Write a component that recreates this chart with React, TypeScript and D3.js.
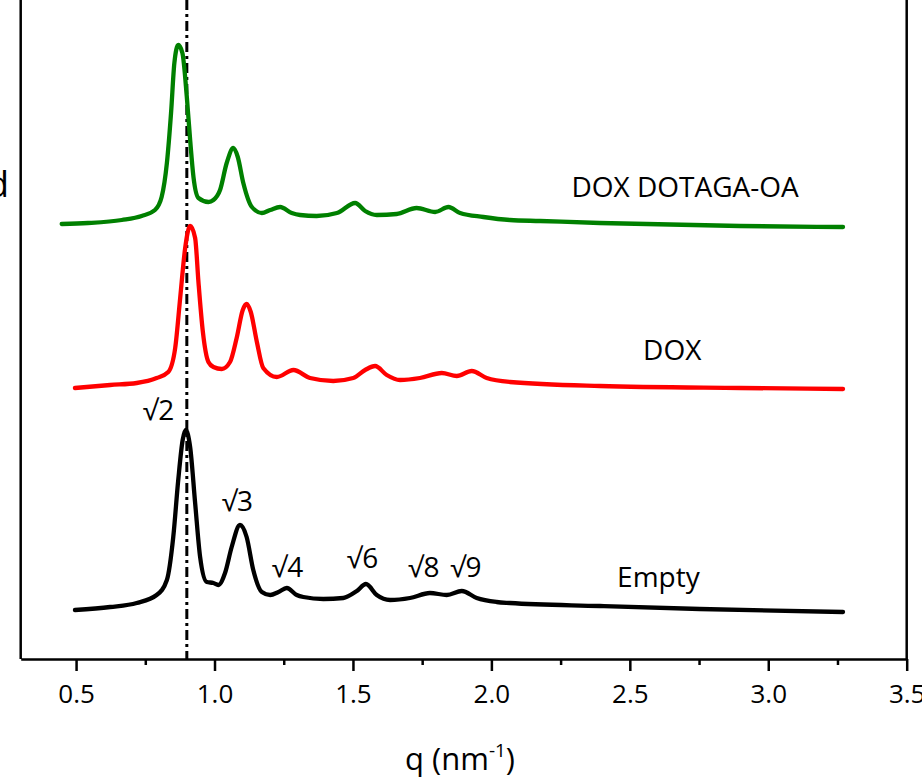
import React, { useEffect, useRef } from "react";
import * as d3 from "d3";

// q (nm^-1) and intensity (a.u., offset curves)
const emptyQ = [0.496, 0.623, 0.719, 0.791, 0.828, 0.851, 0.869, 0.885, 0.896, 0.912, 0.93, 0.948, 0.972, 0.996, 1.014, 1.038, 1.062, 1.092, 1.116, 1.14, 1.171, 1.201, 1.231, 1.261, 1.297, 1.321, 1.393, 1.465, 1.514, 1.547, 1.586, 1.634, 1.706, 1.778, 1.839, 1.893, 1.947, 2.019, 2.067, 2.392, 2.753, 3.27];
const emptyI = [0.49, 0.52, 0.56, 0.64, 0.79, 1.22, 1.79, 2.19, 2.29, 2.12, 1.56, 1.02, 0.77, 0.76, 0.74, 0.86, 1.12, 1.34, 1.22, 0.89, 0.67, 0.64, 0.67, 0.71, 0.64, 0.62, 0.6, 0.61, 0.68, 0.75, 0.64, 0.59, 0.61, 0.66, 0.64, 0.68, 0.61, 0.57, 0.56, 0.53, 0.5, 0.47];

const doxQ = [0.496, 0.623, 0.719, 0.791, 0.833, 0.858, 0.876, 0.894, 0.912, 0.93, 0.942, 0.958, 0.978, 0.996, 1.026, 1.056, 1.08, 1.102, 1.116, 1.131, 1.153, 1.176, 1.225, 1.285, 1.345, 1.429, 1.501, 1.544, 1.58, 1.622, 1.67, 1.742, 1.821, 1.875, 1.929, 1.983, 2.067, 2.392, 2.898, 3.27];
const doxI = [2.71, 2.74, 2.76, 2.81, 2.87, 3.11, 3.61, 4.11, 4.33, 4.21, 3.77, 3.27, 2.97, 2.92, 2.9, 2.97, 3.21, 3.49, 3.55, 3.47, 3.17, 2.91, 2.82, 2.89, 2.81, 2.78, 2.81, 2.89, 2.93, 2.84, 2.79, 2.81, 2.86, 2.83, 2.88, 2.81, 2.77, 2.73, 2.71, 2.7];

const dotagaQ = [0.448, 0.543, 0.665, 0.737, 0.785, 0.809, 0.828, 0.843, 0.855, 0.869, 0.884, 0.9, 0.912, 0.924, 0.942, 0.978, 0.996, 1.02, 1.044, 1.068, 1.084, 1.104, 1.135, 1.171, 1.201, 1.237, 1.279, 1.309, 1.369, 1.442, 1.508, 1.544, 1.586, 1.658, 1.73, 1.797, 1.845, 1.887, 1.971, 2.067, 2.176, 2.392, 2.898, 3.27];
const dotagaI = [4.35, 4.36, 4.39, 4.43, 4.49, 4.62, 4.96, 5.46, 5.96, 6.14, 6.06, 5.62, 5.19, 4.82, 4.61, 4.57, 4.59, 4.69, 4.96, 5.11, 5.02, 4.76, 4.52, 4.46, 4.49, 4.52, 4.46, 4.44, 4.43, 4.46, 4.56, 4.48, 4.44, 4.45, 4.51, 4.47, 4.52, 4.46, 4.42, 4.39, 4.38, 4.36, 4.33, 4.32];

const seriesNames = ["Empty", "DOX", "DOX DOTAGA-OA"];
const seriesColors = ["#000000", "#ff0000", "#008000"];
const majorTicks = [0.5, 1.0, 1.5, 2.0, 2.5, 3.0, 3.5];
const minorTicks = [0.75, 1.25, 1.75, 2.25, 2.75, 3.25];
const referenceQ = 0.9;

// peak index labels: [label, q, intensity]
const peakLabels: [string, number, number][] = [
  ["√2", 0.741, 2.39],
  ["√3", 1.026, 1.48],
  ["√4", 1.207, 0.82],
  ["√6", 1.478, 0.91],
  ["√8", 1.699, 0.82],
  ["√9", 1.851, 0.82],
];
// series labels: [q, intensity]
const seriesLabelPos: [number, number][] = [
  [2.454, 0.72],
  [2.548, 2.99],
  [2.289, 4.62],
];

const W = 922;
const H = 779;
const left = 20.7;
const right = 906.7;
const bottom = 659;

export default function App() {
  const axisRef = useRef<SVGGElement>(null);
  const minorRef = useRef<SVGGElement>(null);

  const x = d3.scaleLinear().domain([0.3, 3.5]).range([left, right]);
  const y = d3.scaleLinear().domain([0, 6.59]).range([bottom, 0]);

  useEffect(() => {
    if (axisRef.current) {
      const g = d3.select(axisRef.current);
      g.call(
        d3
          .axisBottom(x)
          .tickValues(majorTicks)
          .tickSize(12)
          .tickSizeOuter(0)
          .tickFormat(d3.format(".1f") as any)
      );
      g.select(".domain").attr("stroke", "#000").attr("stroke-width", 2.5);
      g.selectAll(".tick line").attr("stroke", "#000").attr("stroke-width", 2.5);
      g.selectAll(".tick text")
        .attr("y", 44)
        .attr("dy", null)
        .attr("fill", "#000")
        .style("font-family", "'Open Sans', sans-serif")
        .style("font-size", "26px");
    }
    if (minorRef.current) {
      const g = d3.select(minorRef.current);
      g.call(d3.axisBottom(x).tickValues(minorTicks).tickSize(6).tickSizeOuter(0).tickFormat(() => ""));
      g.select(".domain").remove();
      g.selectAll(".tick line").attr("stroke", "#000").attr("stroke-width", 2.5);
    }
  }, []);

  const line = d3
    .line<[number, number]>()
    .x((d) => x(d[0]))
    .y((d) => y(d[1]))
    .curve(d3.curveMonotoneX);

  const series = [
    d3.zip(emptyQ, emptyI) as [number, number][],
    d3.zip(doxQ, doxI) as [number, number][],
    d3.zip(dotagaQ, dotagaI) as [number, number][],
  ];

  const font = "'Open Sans', sans-serif";

  return (
    <svg
      width={W}
      height={H}
      style={{ position: "absolute", left: 0, top: 0, background: "#fff" }}
    >
      <rect x={0} y={0} width={W} height={H} fill="#fff" />
      {/* frame */}
      <line x1={left} x2={left} y1={0} y2={bottom} stroke="#000" strokeWidth={2.5} />
      <line x1={right} x2={right} y1={0} y2={bottom} stroke="#000" strokeWidth={2.5} />
      <g ref={axisRef} transform={`translate(0,${bottom})`} />
      <g ref={minorRef} transform={`translate(0,${bottom})`} />

      {/* reference dash-dot line */}
      <line
        x1={x(referenceQ)}
        x2={x(referenceQ)}
        y1={0}
        y2={bottom}
        stroke="#000"
        strokeWidth={3}
        strokeDasharray="10,4,3,4"
      />

      {series.map((s, i) => (
        <path
          key={seriesNames[i]}
          d={line(s) || ""}
          fill="none"
          stroke={seriesColors[i]}
          strokeWidth={4.3}
          strokeLinejoin="round"
          strokeLinecap="round"
        />
      ))}

      {seriesNames.map((n, i) => (
        <text
          key={n}
          x={x(seriesLabelPos[i][0])}
          y={y(seriesLabelPos[i][1])}
          fontFamily={font}
          fontSize={28}
          fill="#000"
        >
          {n}
        </text>
      ))}

      {peakLabels.map(([t, q, v]) => (
        <text key={t} x={x(q)} y={y(v)} fontFamily={font} fontSize={28} fill="#000">
          {t}
        </text>
      ))}

      {/* cut-off y label remnant */}
      <text x={9} y={197} textAnchor="end" fontFamily={font} fontSize={36} fill="#000">
        d
      </text>

      {/* x axis title */}
      <text x={405} y={770} fontFamily={font} fontSize={31} fill="#000">
        q (nm
        <tspan fontSize={19} dy={-13}>
          -1
        </tspan>
        <tspan dy={13}>)</tspan>
      </text>
    </svg>
  );
}
